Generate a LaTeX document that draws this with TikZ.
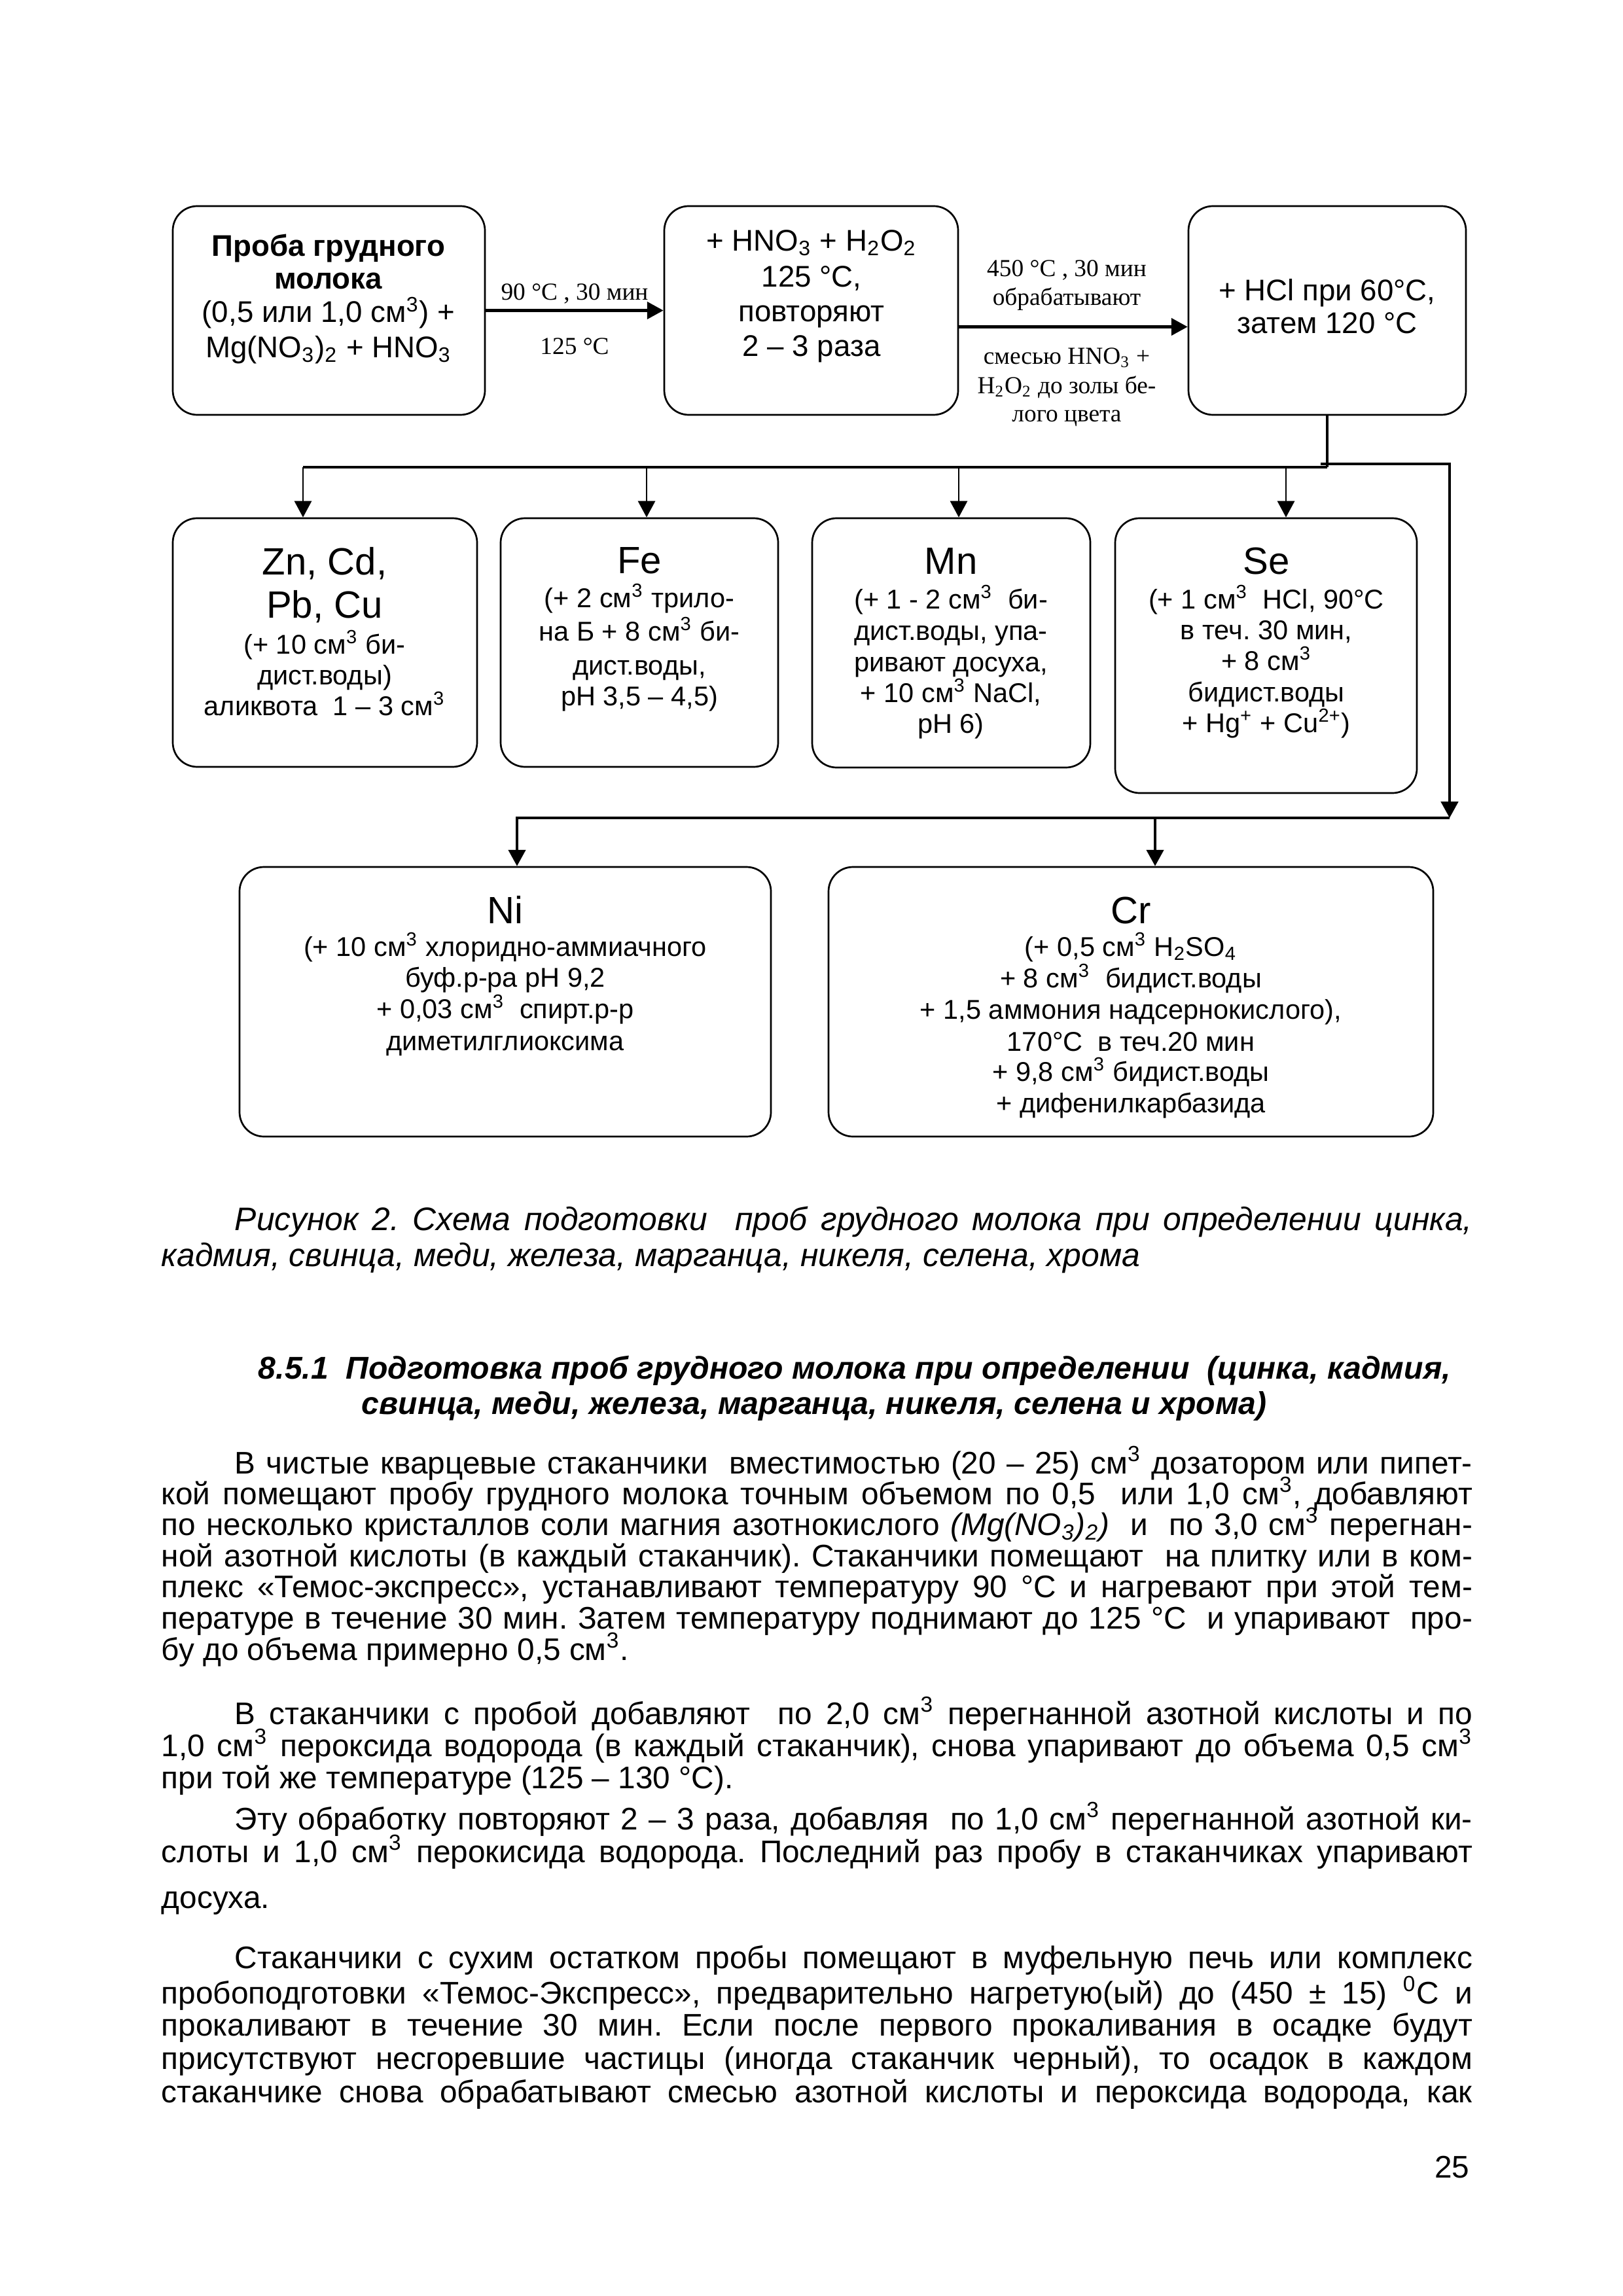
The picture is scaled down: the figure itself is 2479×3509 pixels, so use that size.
\documentclass[tikz,border=0pt]{standalone}
\usepackage{fontspec}
\setmainfont{Liberation Sans}
\newfontfamily\tnr{Liberation Serif}
\usetikzlibrary{arrows.meta}
\frenchspacing
\def\PX{0.24088pt}
\def\WI{455.5pt}
\def\WF{482.5pt}
\newcommand\jline[2]{\makebox[#1][s]{#2}}
\tikzset{
 box/.style={draw, line width=0.65pt, rounded corners=9pt, inner sep=0pt},
 tip/.style={-{Triangle[length=6pt,width=6.3pt]}},
 bus/.style={line width=1pt, line join=miter},
 thinarrow/.style={line width=0.6pt, tip},
 thickarrow/.style={line width=1pt, line join=miter, tip},
 lab/.style={inner sep=0pt, anchor=base},
 ftop/.style={lab, font=\fontsize{11}{13}\selectfont},
 fname/.style={lab, font=\fontsize{14}{16}\selectfont},
 fdet/.style={lab, font=\fontsize{10}{12}\selectfont},
 ftnr/.style={lab, font=\tnr\fontsize{9}{10.5}\selectfont},
 fbody/.style={inner sep=0pt, anchor=base west, font=\fontsize{11.5}{13.2}\selectfont},
 fcap/.style={inner sep=0pt, anchor=base west, font=\fontsize{12}{14}\selectfont\itshape},
 fhead/.style={inner sep=0pt, anchor=base west, font=\fontsize{11.6}{13.4}\selectfont\bfseries\itshape},
}
\begin{document}
\begin{tikzpicture}[x=0.24088pt, y=-0.24088pt]
\useasboundingbox[fill=white] (0,0) rectangle (2479,3509);

% ---------- boxes ----------
\node[box, minimum width=477*\PX, minimum height=319*\PX] (A) at (502.5,474.5) {};
\node[box, minimum width=449*\PX, minimum height=319*\PX] (B) at (1239.5,474.5) {};
\node[box, minimum width=424*\PX, minimum height=319*\PX] (C) at (2028,474.5) {};
\node[box, minimum width=465*\PX, minimum height=380*\PX] (Zn) at (496.5,982) {};
\node[box, minimum width=424*\PX, minimum height=380*\PX] (Fe) at (977,982) {};
\node[box, minimum width=425*\PX, minimum height=381*\PX] (Mn) at (1453.5,982.5) {};
\node[box, minimum width=461*\PX, minimum height=420*\PX] (Se) at (1934.5,1002) {};
\node[box, minimum width=812*\PX, minimum height=412*\PX] (Ni) at (772,1531) {};
\node[box, minimum width=924*\PX, minimum height=412*\PX] (Cr) at (1728,1531) {};

% ---------- box texts ----------
\node[ftop] (a1) at (502,392) {\textbf{Проба грудного}};
\node[ftop] (a2) at (502,442) {\textbf{молока}};
\node[ftop] (a3) at (502,493) {(0,5 или 1,0 см\textsuperscript{3}) +};
\node[ftop] (a4) at (502,547) {Mg(NO\textsubscript{3})\textsubscript{2} + HNO\textsubscript{3}};

\node[ftop] (b1) at (1240,384) {+ HNO\textsubscript{3} + H\textsubscript{2}O\textsubscript{2}};
\node[ftop] (b2) at (1240,439) {125 °C,};
\node[ftop] (b3) at (1240,492) {повторяют};
\node[ftop] (b4) at (1240,545) {2 – 3 раза};

\node[ftop] (c1) at (2028,460) {+ HCl при 60°C,};
\node[ftop] (c2) at (2028,510) {затем 120 °C};

\node[ftnr] (l1) at (878,459) {90 °C , 30 мин};
\node[ftnr] (l2) at (878,542) {125 °C};
\node[ftnr] (l3) at (1630,423) {450 °C , 30 мин};
\node[ftnr] (l4) at (1630,467) {обрабатывают};
\node[ftnr] (l5) at (1630,557) {смесью HNO\textsubscript{3} +};
\node[ftnr] (l6) at (1630,602) {H\textsubscript{2}O\textsubscript{2} до золы бе-};
\node[ftnr] (l7) at (1630,645) {лого цвета};

\node[fname] (zn1) at (496,878) {Zn, Cd,};
\node[fname] (zn2) at (496,944) {Pb, Cu};
\node[fdet] (zn3) at (496,999) {(+ 10 см\textsuperscript{3} би-};
\node[fdet] (zn4) at (496,1046) {дист.воды)};
\node[fdet] (zn5) at (496,1093) {аликвота\ \ 1 – 3 см\textsuperscript{3}};

\node[fname] (fe1) at (977,876) {Fe};
\node[fdet] (fe2) at (977,928) {(+ 2 см\textsuperscript{3} трило-};
\node[fdet] (fe3) at (977,979) {на Б + 8 см\textsuperscript{3} би-};
\node[fdet] (fe4) at (977,1031) {дист.воды,};
\node[fdet] (fe5) at (977,1078) {pH 3,5 – 4,5)};

\node[fname] (mn1) at (1453,877) {Mn};
\node[fdet] (mn2) at (1453,930) {(+ 1 - 2 см\textsuperscript{3}\ \ би-};
\node[fdet] (mn3) at (1453,978) {дист.воды, упа-};
\node[fdet] (mn4) at (1453,1026) {ривают досуха,};
\node[fdet] (mn5) at (1453,1073) {+ 10 см\textsuperscript{3} NaCl,};
\node[fdet] (mn6) at (1453,1120) {pH 6)};

\node[fname] (se1) at (1935,877) {Se};
\node[fdet] (se2) at (1935,930) {(+ 1 см\textsuperscript{3}\ \ HCl, 90°C};
\node[fdet] (se3) at (1935,977) {в теч. 30 мин,};
\node[fdet] (se4) at (1935,1024) {+ 8 см\textsuperscript{3}};
\node[fdet] (se5) at (1935,1072) {бидист.воды};
\node[fdet] (se6) at (1935,1119) {+ Hg\textsuperscript{+} + Cu\textsuperscript{2+})};

\node[fname] (ni1) at (772,1411) {Ni};
\node[fdet] (ni2) at (772,1461) {(+ 10 см\textsuperscript{3} хлоридно-аммиачного};
\node[fdet] (ni3) at (772,1508) {буф.р-ра pH 9,2};
\node[fdet] (ni4) at (772,1556) {+ 0,03 см\textsuperscript{3}\ \ спирт.р-р};
\node[fdet] (ni5) at (772,1605) {диметилглиоксима};

\node[fname] (cr1) at (1728,1411) {Cr};
\node[fdet] (cr2) at (1728,1461) {(+ 0,5 см\textsuperscript{3} H\textsubscript{2}SO\textsubscript{4}};
\node[fdet] (cr3) at (1728,1509) {+ 8 см\textsuperscript{3}\ \ бидист.воды};
\node[fdet] (cr4) at (1728,1557) {+ 1,5 аммония надсернокислого),};
\node[fdet] (cr5) at (1728,1606) {170°C\ \ в теч.20 мин};
\node[fdet] (cr6) at (1728,1652) {+ 9,8 см\textsuperscript{3} бидист.воды};
\node[fdet] (cr7) at (1728,1700) {+ дифенилкарбазида};

% ---------- connectors ----------
\draw[thickarrow] (A.east) -- (B.west);
\draw[thickarrow] ([yshift=-25*\PX]B.east) -- ([yshift=-25*\PX]C.west);

\coordinate (jc) at (2028,714);
\coordinate (bl) at (463,714);
\coordinate (brs) at (2018,709);
\coordinate (brc) at (2215,709);
\coordinate (rb) at (2215,1250);
\coordinate (nb) at (790,1250);
\coordinate (cb) at (1765,1250);
\coordinate (bfe) at (988,714);
\coordinate (bmn) at (1465,714);
\coordinate (bse) at (1965,714);

\draw[bus] (C.south) -- (jc);
\draw[bus] (bl) -- (jc);
\draw[thickarrow] (brs) -- (brc) -- (rb);
\draw[thickarrow] (rb) -- (nb) -- (nb |- Ni.north);
\draw[thickarrow] (cb) -- (cb |- Cr.north);

\draw[thinarrow] (bl) -- (bl |- Zn.north);
\draw[thinarrow] (bfe) -- (bfe |- Fe.north);
\draw[thinarrow] (bmn) -- (bmn |- Mn.north);
\draw[thinarrow] (bse) -- (bse |- Se.north);

% ---------- caption ----------
\node[fcap] (cap1) at (358,1880)
  {\jline{\WI}{Рисунок 2. Схема подготовки\ \ проб грудного молока при определении цинка,}};
\node[fcap] (cap2) at (246,1935)
  {кадмия, свинца, меди, железа, марганца, никеля, селена, хрома};

% ---------- heading ----------
\node[fhead] (h1) at (394,2107)
  {8.5.1\ \ Подготовка проб грудного молока при определении\ \ (цинка, кадмия,};
\node[fhead] (h2) at (552,2161)
  {свинца, меди, железа, марганца, никеля, селена и хрома)};

% ---------- body ----------
\node[fbody] (p1) at (358,2252) {\jline{\WI}{В чистые кварцевые стаканчики\ \ вместимостью (20 – 25) см\textsuperscript{3} дозатором или пипет-}};
\node[fbody] (p2) at (246,2299) {\jline{\WF}{кой помещают пробу грудного молока точным объемом по 0,5\ \ или 1,0 см\textsuperscript{3}, добавляют}};
\node[fbody] (p3) at (246,2346) {\jline{\WF}{по несколько кристаллов соли магния азотнокислого \textit{(Mg(NO\textsubscript{3})\textsubscript{2})}\ \ и\ \ по 3,0 см\textsuperscript{3} перегнан-}};
\node[fbody] (p4) at (246,2394) {\jline{\WF}{ной азотной кислоты (в каждый стаканчик). Стаканчики помещают\ \ на плитку или в ком-}};
\node[fbody] (p5) at (246,2441) {\jline{\WF}{плекс «Темос-экспресс», устанавливают температуру 90 °С и нагревают при этой тем-}};
\node[fbody] (p6) at (246,2489) {\jline{\WF}{пературе в течение 30 мин. Затем температуру поднимают до 125 °С\ \ и упаривают\ \ про-}};
\node[fbody] (p7) at (246,2537) {бу до объема примерно 0,5 см\textsuperscript{3}.};
\node[fbody] (p8) at (358,2635) {\jline{\WI}{В стаканчики с пробой добавляют\ \ по 2,0 см\textsuperscript{3} перегнанной азотной кислоты и по}};
\node[fbody] (p9) at (246,2684) {\jline{\WF}{1,0 см\textsuperscript{3} пероксида водорода (в каждый стаканчик), снова упаривают до объема 0,5 см\textsuperscript{3}}};
\node[fbody] (p10) at (246,2733) {при той же температуре (125 – 130 °С).};
\node[fbody] (p11) at (358,2796) {\jline{\WI}{Эту обработку повторяют 2 – 3 раза, добавляя\ \ по 1,0 см\textsuperscript{3} перегнанной азотной ки-}};
\node[fbody] (p12) at (246,2846) {\jline{\WF}{слоты и 1,0 см\textsuperscript{3} перокисида водорода. Последний раз пробу в стаканчиках упаривают}};
\node[fbody] (p13) at (246,2916) {досуха.};
\node[fbody] (p14) at (358,3008) {\jline{\WI}{Стаканчики с сухим остатком пробы помещают в муфельную печь или комплекс}};
\node[fbody] (p15) at (246,3062) {\jline{\WF}{пробоподготовки «Темос-Экспресс», предварительно нагретую(ый) до (450 ± 15) \textsuperscript{0}С и}};
\node[fbody] (p16) at (246,3111) {\jline{\WF}{прокаливают в течение 30 мин. Если после первого прокаливания в осадке будут}};
\node[fbody] (p17) at (246,3162) {\jline{\WF}{присутствуют несгоревшие частицы (иногда стаканчик черный), то осадок в каждом}};
\node[fbody] (p18) at (246,3213) {\jline{\WF}{стаканчике снова обрабатывают смесью азотной кислоты и пероксида водорода, как}};

\node[fbody, anchor=base east] (pg) at (2246,3328) {25};
\end{tikzpicture}
\end{document}
